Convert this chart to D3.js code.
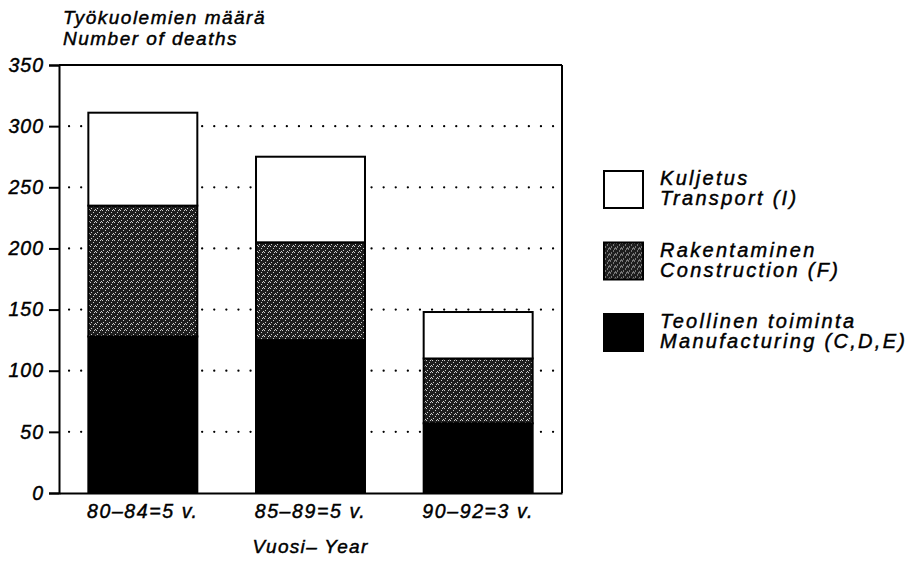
<!DOCTYPE html>
<html>
<head>
<meta charset="utf-8">
<script src="https://cdn.jsdelivr.net/npm/d3@7"></script>
<style>
  body { margin: 0; background: #fff; }
  text { font-family: "Liberation Sans", Arial, sans-serif; font-style: italic; fill: #000; stroke: #000; stroke-width: 0.45; }
</style>
</head>
<body>
<svg width="918" height="561"></svg>
<script>
// data
var periods = ['80–84=5 v.', '85–89=5 v.', '90–92=3 v.'];
var manufacturing = [128, 125, 57];
var construction = [107, 80, 53];
var transport = [76, 70, 38];
var yTicks = [0, 50, 100, 150, 200, 250, 300, 350];
var seriesKeys = ['manufacturing', 'construction', 'transport'];
var legendLabels = [
    ['Kuljetus', 'Transport (I)'],
    ['Rakentaminen', 'Construction (F)'],
    ['Teollinen toiminta', 'Manufacturing (C,D,E)']
];

var plotLeft = 59, plotRight = 562, plotTop = 65, plotBottom = 493;

var svg = d3.select('svg');

// stipple pattern for construction
var defs = svg.append('defs');
var pat = defs.append('pattern')
    .attr('id', 'stipple')
    .attr('patternUnits', 'userSpaceOnUse')
    .attr('width', 6).attr('height', 6);
pat.append('rect').attr('width', 6).attr('height', 6).attr('fill', '#1e1e1e');
[[0, 0], [3, 2], [1, 4], [5, 5], [4, 0]].forEach(function (p) {
    pat.append('rect').attr('x', p[0]).attr('y', p[1]).attr('width', 1).attr('height', 1).attr('fill', '#cfcfcf');
});

var fills = { manufacturing: '#000', construction: 'url(#stipple)', transport: '#fff' };

var table = periods.map(function (p, i) {
    return { period: p, manufacturing: manufacturing[i], construction: construction[i], transport: transport[i] };
});

var x = d3.scaleBand().domain(periods).range([plotLeft, plotRight]).paddingInner(0.35).paddingOuter(0.175);
var y = d3.scaleLinear().domain([0, 350]).range([plotBottom, plotTop]);

// dotted gridlines
svg.append('g').selectAll('line.grid').data(yTicks.filter(function (d) { return d > 0 && d < 350; }))
    .enter().append('line')
    .attr('class', 'grid')
    .attr('x1', plotLeft + 10).attr('x2', plotRight)
    .attr('y1', function (d) { return y(d); }).attr('y2', function (d) { return y(d); })
    .attr('stroke', '#000').attr('stroke-width', 2.2)
    .attr('stroke-linecap', 'round')
    .attr('stroke-dasharray', '0.1 12');

// stacked bars
var stacked = d3.stack().keys(seriesKeys)(table);
var layers = svg.append('g').selectAll('g.layer').data(stacked).enter().append('g')
    .attr('class', 'layer')
    .attr('fill', function (d) { return fills[d.key]; });

layers.selectAll('rect').data(function (d) { return d; }).enter().append('rect')
    .attr('x', function (d) { return x(d.data.period); })
    .attr('width', x.bandwidth())
    .attr('y', function (d) { return y(d[1]); })
    .attr('height', function (d) { return y(d[0]) - y(d[1]); })
    .attr('stroke', '#000')
    .attr('stroke-width', 2);

// frame
svg.append('line').attr('x1', plotLeft).attr('x2', plotRight).attr('y1', plotTop).attr('y2', plotTop).attr('stroke', '#000').attr('stroke-width', 2);
svg.append('line').attr('x1', plotRight).attr('x2', plotRight).attr('y1', plotTop).attr('y2', plotBottom).attr('stroke', '#000').attr('stroke-width', 2);

// axes
var yAxis = svg.append('g')
    .attr('transform', 'translate(' + plotLeft + ',0)')
    .call(d3.axisLeft(y).tickValues(yTicks).tickSize(10).tickPadding(5));
yAxis.select('.domain').attr('stroke-width', 2);
yAxis.selectAll('.tick line').attr('stroke-width', 2);
yAxis.selectAll('.tick text').attr('font-size', 19.5).attr('font-family', null).attr('letter-spacing', 1);

var xAxis = svg.append('g')
    .attr('transform', 'translate(0,' + plotBottom + ')')
    .call(d3.axisBottom(x).tickSize(0).tickPadding(11));
xAxis.select('.domain').attr('stroke-width', 2);
xAxis.selectAll('.tick text').attr('font-size', 19.5).attr('font-family', null).attr('letter-spacing', 1.6);

// titles
svg.append('text').attr('x', 63).attr('y', 24).attr('font-size', 19).attr('letter-spacing', 1.5).text('Työkuolemien määrä');
svg.append('text').attr('x', 63).attr('y', 45).attr('font-size', 19).attr('letter-spacing', 1.5).text('Number of deaths');
svg.append('text').attr('x', (plotLeft + plotRight) / 2).attr('y', 553).attr('text-anchor', 'middle')
    .attr('font-size', 19).attr('letter-spacing', 1.3).text('Vuosi– Year');

// legend
var legendFills = [fills.transport, fills.construction, fills.manufacturing];
var legend = svg.append('g').selectAll('g').data(legendLabels).enter().append('g')
    .attr('transform', function (d, i) { return 'translate(604,' + (171 + i * 71.5) + ')'; });
legend.append('rect')
    .attr('width', 39).attr('height', 37)
    .attr('fill', function (d, i) { return legendFills[i]; })
    .attr('stroke', '#000').attr('stroke-width', 2);
legend.append('text').attr('x', 56).attr('y', 14).attr('font-size', 20).attr('letter-spacing', 2.3).text(function (d) { return d[0]; });
legend.append('text').attr('x', 56).attr('y', 34).attr('font-size', 20).attr('letter-spacing', 2.3).text(function (d) { return d[1]; });
</script>
</body>
</html>
